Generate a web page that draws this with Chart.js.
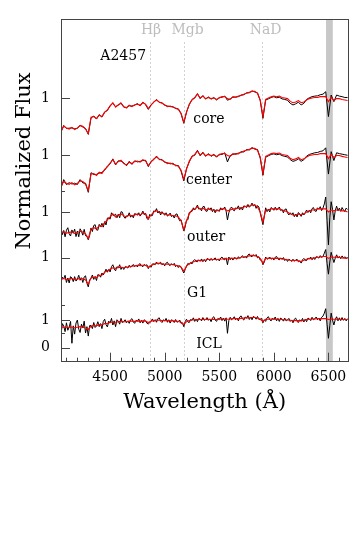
<!DOCTYPE html>
<html>
<head>
<meta charset="utf-8">
<script src="https://cdn.jsdelivr.net/npm/chart.js@4.4.0/dist/chart.umd.min.js"></script>
<style>
  html, body { margin: 0; padding: 0; background: #fff; }
  #spec { display: block; }
</style>
</head>
<body>
<canvas id="spec" width="360" height="540"></canvas>
<script>
// wavelength grid (Angstrom) for models and bright spectra
const wave = [4050,4075,4100,4125,4150,4175,4200,4225,4250,4275,
  4300,4325,4350,4375,4400,4425,4450,4475,4500,4525,
  4550,4575,4600,4625,4650,4675,4700,4725,4750,4775,
  4800,4825,4850,4875,4900,4925,4950,4975,5000,5025,
  5050,5075,5100,5125,5150,5175,5200,5225,5250,5275,
  5300,5325,5350,5375,5400,5425,5450,5475,5500,5525,
  5550,5575,5600,5625,5650,5675,5700,5725,5750,5775,
  5800,5825,5850,5875,5900,5925,5950,5975,6000,6025,
  6050,6075,6100,6125,6150,6175,6200,6225,6250,6275,
  6300,6325,6350,6375,6400,6425,6450,6475,6500,6525,
  6550,6575,6600,6625,6650,6675];

// finer grid for the noisy, faint spectra
const waveFine = [4050,4062.5,4075,4087.5,4100,4112.5,4125,4137.5,4150,4162.5,
  4175,4187.5,4200,4212.5,4225,4237.5,4250,4262.5,4275,4287.5,
  4300,4312.5,4325,4337.5,4350,4362.5,4375,4387.5,4400,4412.5,
  4425,4437.5,4450,4462.5,4475,4487.5,4500,4512.5,4525,4537.5,
  4550,4562.5,4575,4587.5,4600,4612.5,4625,4637.5,4650,4662.5,
  4675,4687.5,4700,4712.5,4725,4737.5,4750,4762.5,4775,4787.5,
  4800,4812.5,4825,4837.5,4850,4862.5,4875,4887.5,4900,4912.5,
  4925,4937.5,4950,4962.5,4975,4987.5,5000,5012.5,5025,5037.5,
  5050,5062.5,5075,5087.5,5100,5112.5,5125,5137.5,5150,5162.5,
  5175,5187.5,5200,5212.5,5225,5237.5,5250,5262.5,5275,5287.5,
  5300,5312.5,5325,5337.5,5350,5362.5,5375,5387.5,5400,5412.5,
  5425,5437.5,5450,5462.5,5475,5487.5,5500,5512.5,5525,5537.5,
  5550,5562.5,5575,5587.5,5600,5612.5,5625,5637.5,5650,5662.5,
  5675,5687.5,5700,5712.5,5725,5737.5,5750,5762.5,5775,5787.5,
  5800,5812.5,5825,5837.5,5850,5862.5,5875,5887.5,5900,5912.5,
  5925,5937.5,5950,5962.5,5975,5987.5,6000,6012.5,6025,6037.5,
  6050,6062.5,6075,6087.5,6100,6112.5,6125,6137.5,6150,6162.5,
  6175,6187.5,6200,6212.5,6225,6237.5,6250,6262.5,6275,6287.5,
  6300,6312.5,6325,6337.5,6350,6362.5,6375,6387.5,6400,6412.5,
  6425,6437.5,6450,6462.5,6475,6487.5,6500,6512.5,6525,6537.5,
  6550,6562.5,6575,6587.5,6600,6612.5,6625,6637.5,6650,6662.5,
  6675];

// observed (black) and model (red) spectra, already offset
const coreObs = [7.80,8.04,7.93,7.94,7.95,7.92,7.93,8.05,7.98,7.93,
  7.72,8.31,8.38,8.27,8.43,8.34,8.53,8.58,8.76,8.84,
  8.72,8.77,8.86,8.70,8.69,8.75,8.74,8.77,8.83,8.75,
  8.88,8.79,8.62,8.79,8.87,8.98,8.87,8.86,8.77,8.74,
  8.72,8.72,8.65,8.64,8.46,8.12,8.53,8.79,8.98,9.03,
  9.19,9.01,9.12,8.99,9.07,8.99,9.05,8.96,9.05,9.06,
  9.10,8.95,9.00,9.06,9.07,9.08,9.14,9.15,9.22,9.22,
  9.29,9.25,9.22,8.94,8.30,8.96,9.00,9.05,9.08,9.04,
  9.06,9.00,8.98,8.95,8.84,8.78,8.82,8.88,8.78,8.84,
  8.98,9.04,9.08,9.10,9.11,9.15,9.17,9.26,8.36,9.14,
  8.90,9.14,9.10,9.08,9.05,9.05];
const coreFit = [7.83,8.01,7.95,7.91,7.97,7.89,7.95,8.03,8.01,7.91,
  7.74,8.34,8.36,8.29,8.41,8.36,8.51,8.60,8.74,8.86,
  8.70,8.79,8.84,8.72,8.67,8.77,8.72,8.79,8.81,8.77,
  8.86,8.81,8.65,8.77,8.89,8.96,8.89,8.84,8.79,8.72,
  8.74,8.70,8.67,8.62,8.48,8.15,8.51,8.81,8.96,9.05,
  9.17,9.03,9.10,9.01,9.05,9.01,9.03,8.98,9.03,9.08,
  9.08,9.01,8.98,9.08,9.05,9.10,9.12,9.17,9.20,9.24,
  9.27,9.27,9.20,8.96,8.36,8.98,9.03,9.08,9.10,9.08,
  9.10,9.05,9.03,9.01,8.91,8.86,8.89,8.94,8.86,8.89,
  8.96,9.01,9.03,9.05,9.05,9.08,9.08,9.08,8.90,9.05,
  8.94,9.01,9.01,8.98,8.96,8.94];

const centerObs = [5.78,6.08,5.90,5.97,5.92,5.95,5.90,6.08,5.96,5.95,
  5.62,6.33,6.26,6.27,6.31,6.34,6.42,6.57,6.65,6.83,
  6.61,6.76,6.75,6.69,6.58,6.74,6.63,6.76,6.72,6.74,
  6.77,6.78,6.55,6.74,6.80,6.93,6.80,6.81,6.70,6.69,
  6.65,6.67,6.58,6.59,6.39,6.03,6.48,6.72,6.93,6.96,
  7.14,6.94,7.07,6.92,7.02,6.92,7.00,6.89,7.00,6.99,
  7.05,6.72,6.95,6.99,7.02,7.01,7.09,7.08,7.17,7.15,
  7.24,7.18,7.17,6.86,6.24,6.89,6.94,6.99,7.01,6.98,
  7.00,6.95,6.92,6.90,6.80,6.74,6.77,6.83,6.74,6.80,
  6.93,6.99,7.02,7.05,7.06,7.10,7.12,7.23,6.28,7.09,
  6.77,7.05,7.02,7.00,6.98,6.96];
const centerFit = [5.83,6.01,5.95,5.91,5.97,5.89,5.95,6.03,6.01,5.91,
  5.68,6.28,6.30,6.23,6.35,6.30,6.45,6.54,6.68,6.80,
  6.64,6.73,6.78,6.66,6.61,6.71,6.66,6.73,6.75,6.71,
  6.80,6.75,6.59,6.71,6.83,6.90,6.83,6.78,6.73,6.66,
  6.68,6.64,6.61,6.56,6.42,6.09,6.45,6.75,6.90,6.99,
  7.11,6.97,7.04,6.95,6.99,6.95,6.97,6.92,6.97,7.02,
  7.02,6.95,6.92,7.02,6.99,7.04,7.06,7.11,7.14,7.18,
  7.21,7.21,7.14,6.90,6.30,6.92,6.97,7.02,7.04,7.02,
  7.04,6.99,6.97,6.95,6.85,6.80,6.83,6.88,6.80,6.83,
  6.90,6.95,6.97,6.99,6.99,7.02,7.02,7.02,6.84,6.99,
  6.88,6.95,6.95,6.92,6.90,6.88];

// outer, G1 and ICL observed spectra are on waveFine
const outerObs = [4.30,4.09,4.24,4.01,4.25,4.34,4.12,4.04,4.26,4.14,
  4.29,4.02,4.22,4.01,4.30,4.21,4.07,4.28,4.05,4.03,
  3.90,4.06,4.33,4.20,4.42,4.45,4.26,4.25,4.46,4.38,
  4.50,4.36,4.56,4.44,4.69,4.69,4.65,4.88,4.79,4.79,
  4.83,4.70,4.83,4.70,4.92,4.90,4.74,4.68,4.77,4.76,
  4.88,4.72,4.80,4.70,4.85,4.83,4.79,4.88,4.76,4.84,
  4.94,4.81,4.86,4.67,4.64,4.82,4.77,4.78,4.95,4.92,
  5.03,4.87,4.94,4.80,4.92,4.86,4.79,4.88,4.76,4.80,
  4.87,4.74,4.79,4.69,4.82,4.84,4.70,4.59,4.63,4.42,
  4.22,4.37,4.62,4.63,4.89,4.92,4.93,5.06,4.98,5.06,
  5.16,5.01,5.04,4.95,5.10,5.11,4.95,4.93,5.06,4.99,
  5.06,4.92,5.01,4.88,4.99,4.97,4.93,5.06,4.98,5.02,
  5.09,4.94,4.62,4.88,5.03,5.09,4.99,4.95,5.06,5.03,
  5.13,4.99,5.08,4.98,5.13,5.11,5.07,5.18,5.08,5.14,
  5.23,5.12,5.18,5.04,5.14,5.09,4.88,4.66,4.45,4.76,
  5.06,4.92,5.01,4.91,5.07,5.03,4.97,5.08,4.98,5.02,
  5.09,4.96,5.00,4.88,5.00,5.02,4.88,4.80,4.88,4.81,
  4.88,4.74,4.83,4.73,4.89,4.83,4.75,4.88,4.80,4.88,
  4.98,4.89,4.97,4.88,5.03,5.07,4.95,4.93,5.06,5.01,
  5.10,4.96,5.05,5.20,5.45,4.60,3.72,4.70,5.28,5.00,
  4.62,4.96,5.12,4.95,5.05,4.93,5.07,4.98,4.92,5.05,
  5.00];
const outerFit = [4.16,4.20,4.14,4.17,4.19,4.13,4.17,4.21,4.18,4.12,
  3.95,4.30,4.34,4.30,4.41,4.38,4.52,4.62,4.73,4.84,
  4.73,4.80,4.84,4.77,4.73,4.80,4.77,4.80,4.84,4.80,
  4.87,4.84,4.66,4.80,4.91,4.95,4.91,4.87,4.84,4.80,
  4.80,4.77,4.77,4.73,4.59,4.27,4.59,4.84,4.98,5.02,
  5.09,5.02,5.05,4.98,5.02,4.98,4.98,4.95,4.98,5.02,
  5.02,4.95,4.98,5.02,5.02,5.05,5.05,5.09,5.12,5.12,
  5.16,5.16,5.09,4.91,4.55,4.98,4.98,5.02,5.02,5.02,
  5.02,4.98,4.95,4.91,4.84,4.80,4.80,4.84,4.80,4.84,
  4.91,4.95,4.98,4.98,5.02,5.02,5.02,5.02,4.91,4.98,
  4.95,4.98,4.98,4.95,4.95,4.91];

const g1Obs = [2.36,2.55,2.49,2.62,2.36,2.52,2.34,2.57,2.52,2.39,
  2.57,2.41,2.48,2.62,2.44,2.53,2.36,2.56,2.60,2.33,
  2.20,2.45,2.51,2.63,2.47,2.58,2.43,2.64,2.63,2.55,
  2.70,2.63,2.73,2.84,2.73,2.83,2.74,2.93,3.00,2.85,
  2.78,2.93,2.89,3.00,2.83,2.92,2.83,2.93,2.92,2.88,
  2.98,2.91,2.95,3.01,2.93,2.98,2.92,3.01,3.04,2.96,
  2.93,3.01,2.97,3.00,2.86,2.96,2.91,3.03,3.03,3.00,
  3.10,3.02,3.05,3.09,3.00,3.04,2.96,3.06,3.09,3.00,
  2.97,3.04,2.99,3.05,2.93,2.99,2.90,2.97,2.92,2.80,
  2.70,2.83,2.95,3.05,3.01,3.08,3.03,3.14,3.19,3.12,
  3.11,3.18,3.13,3.21,3.11,3.19,3.11,3.22,3.21,3.15,
  3.23,3.16,3.20,3.25,3.16,3.21,3.14,3.24,3.28,3.20,
  3.18,3.25,3.00,3.28,3.18,3.25,3.17,3.26,3.24,3.20,
  3.29,3.23,3.27,3.33,3.25,3.30,3.24,3.35,3.39,3.31,
  3.29,3.36,3.32,3.37,3.25,3.29,3.17,3.17,3.00,3.10,
  3.28,3.20,3.23,3.28,3.20,3.24,3.17,3.27,3.30,3.21,
  3.18,3.25,3.20,3.26,3.15,3.21,3.12,3.20,3.17,3.12,
  3.20,3.13,3.16,3.20,3.11,3.14,3.06,3.18,3.23,3.16,
  3.15,3.24,3.21,3.28,3.18,3.26,3.19,3.29,3.28,3.24,
  3.33,3.26,3.30,3.42,3.55,3.05,2.66,3.10,3.45,3.26,
  3.08,3.24,3.36,3.24,3.30,3.22,3.32,3.24,3.29,3.22,
  3.28];
const g1Fit = [2.48,2.50,2.46,2.49,2.50,2.46,2.48,2.51,2.49,2.45,
  2.30,2.52,2.55,2.54,2.62,2.62,2.73,2.78,2.84,2.89,
  2.87,2.90,2.91,2.89,2.91,2.93,2.95,2.96,2.98,2.97,
  2.98,2.98,2.91,2.97,3.02,3.05,3.05,3.03,3.02,3.02,
  3.02,3.00,2.98,2.96,2.91,2.77,2.95,3.04,3.09,3.12,
  3.16,3.14,3.16,3.17,3.20,3.18,3.20,3.19,3.20,3.21,
  3.23,3.21,3.23,3.23,3.23,3.24,3.27,3.28,3.30,3.32,
  3.34,3.33,3.30,3.23,3.05,3.23,3.23,3.23,3.23,3.23,
  3.23,3.21,3.20,3.18,3.16,3.15,3.16,3.14,3.12,3.16,
  3.20,3.22,3.23,3.25,3.27,3.28,3.30,3.30,3.23,3.28,
  3.27,3.28,3.27,3.25,3.24,3.23];

const iclObs = [0.47,0.87,0.78,0.58,0.90,0.63,0.74,0.95,0.16,0.79,
  0.49,0.89,1.00,0.67,0.55,0.85,0.71,0.96,0.53,0.76,
  0.42,0.80,0.80,0.69,0.91,0.73,0.79,0.94,0.76,0.87,
  0.69,0.95,1.03,0.83,0.75,0.96,0.89,1.06,0.82,0.97,
  0.76,1.01,0.96,0.85,1.06,0.91,0.94,1.01,0.90,0.97,
  0.88,1.01,1.05,0.93,0.88,0.99,0.96,1.04,0.90,0.99,
  0.89,1.01,0.97,0.88,0.86,0.90,0.96,1.04,0.94,1.01,
  0.92,1.05,1.08,0.96,0.91,1.01,0.97,1.06,0.92,1.01,
  0.89,1.01,0.98,0.91,1.02,0.92,0.95,1.00,0.88,0.90,
  0.76,0.94,1.03,0.93,0.91,1.02,0.99,1.08,0.95,1.04,
  0.94,1.06,1.03,0.97,1.09,0.99,1.02,1.09,0.99,1.04,
  0.94,1.08,1.12,1.00,0.95,1.06,1.02,1.11,0.98,1.07,
  0.96,1.08,0.52,0.98,1.10,1.01,1.05,1.12,1.01,1.07,
  0.97,1.11,1.15,1.04,1.00,1.11,1.07,1.16,1.02,1.11,
  1.01,1.13,1.10,1.03,1.13,1.02,1.03,1.06,0.90,1.01,
  0.95,1.08,1.12,1.01,0.97,1.07,1.02,1.11,0.97,1.06,
  0.95,1.07,1.03,0.96,1.07,0.97,1.00,1.06,0.95,1.00,
  0.90,1.03,1.07,0.95,0.91,1.01,0.96,1.06,0.93,1.03,
  0.94,1.07,1.04,0.98,1.10,1.01,1.04,1.11,1.01,1.07,
  0.97,1.10,1.14,1.25,1.41,0.85,0.34,0.80,1.25,1.00,
  0.82,1.02,1.12,0.97,1.08,0.98,1.09,0.99,1.06,0.97,
  1.05];
const iclFit = [0.73,0.75,0.72,0.74,0.75,0.72,0.74,0.76,0.74,0.71,
  0.66,0.78,0.80,0.79,0.84,0.83,0.87,0.88,0.91,0.93,
  0.92,0.94,0.95,0.94,0.94,0.96,0.96,0.95,0.97,0.96,
  0.97,0.96,0.91,0.96,0.98,1.00,0.99,0.98,0.98,0.98,
  0.97,0.97,0.96,0.95,0.92,0.84,0.94,0.98,1.00,1.01,
  1.02,1.02,1.03,1.02,1.03,1.02,1.03,1.02,1.03,1.04,
  1.04,1.03,1.04,1.05,1.05,1.05,1.06,1.07,1.08,1.08,
  1.09,1.09,1.07,1.03,0.95,1.03,1.03,1.04,1.03,1.03,
  1.03,1.02,1.01,1.00,0.99,0.98,0.98,0.98,0.97,0.99,
  1.02,1.03,1.04,1.04,1.05,1.05,1.05,1.05,1.02,1.04,
  1.03,1.03,1.03,1.02,1.02,1.02];

// region names and where their labels sit
const specNames = ['core', 'center', 'outer', 'G1', 'ICL'];
const specLabelWave = [5262, 5196, 5205, 5205, 5288];
const specLabelFlux = [8.27, 6.05, 3.98, 1.98, 0.125];

// absorption features marked with dotted lines
const lineNames = ['Hβ', 'Mgb', 'NaD'];
const lineWaves = [4861, 5175, 5893];
const lineLabelWave = [4875, 5210, 5924];

const maskBand = [6478, 6540];

// axis ticks
const xTicks = [4100,4200,4300,4400,4500,4600,4700,4800,4900,5000,5100,5200,5300,5400,
  5500,5600,5700,5800,5900,6000,6100,6200,6300,6400,6500,6600];
const xMajor = [4500, 5000, 5500, 6000, 6500];
const yTicks = [0, 0.518, 1, 1.554, 3.25, 4.911, 5.66, 6.957, 9.018];
const yTickLabels = ['0', '', '1', '', '1', '1', '', '1', '1'];

const serif = "'DejaVu Serif', serif";

function pts(grid, arr) {
  return arr.map((v, i) => ({ x: grid[i], y: v }));
}

const observed = [pts(wave, coreObs), pts(wave, centerObs), pts(waveFine, outerObs),
  pts(waveFine, g1Obs), pts(waveFine, iclObs)];
const fitted = [coreFit, centerFit, outerFit, g1Fit, iclFit];

const datasets = [];
fitted.forEach((arr, i) => {
  datasets.push({ label: specNames[i] + ' model', data: pts(wave, arr), borderColor: '#ff0000', borderWidth: 1.1, order: 0 });
});
observed.forEach((d, i) => {
  datasets.push({ label: specNames[i], data: d, borderColor: '#000000', borderWidth: 1, order: 1 });
});

// band, marker lines, frame, inward ticks and text
const decor = {
  id: 'decor',
  beforeDatasetsDraw(chart) {
    const { ctx, chartArea: a, scales: { x, y } } = chart;
    ctx.save();
    const b0 = x.getPixelForValue(maskBand[0]);
    const b1 = x.getPixelForValue(maskBand[1]);
    ctx.fillStyle = '#c8c8c8';
    ctx.fillRect(b0, a.top, b1 - b0, a.bottom - a.top);

    ctx.strokeStyle = '#c4c4c4';
    ctx.lineWidth = 1;
    ctx.setLineDash([1.5, 2.5]);
    lineWaves.forEach(w => {
      const px = Math.round(x.getPixelForValue(w)) + 0.5;
      ctx.beginPath();
      ctx.moveTo(px, y.getPixelForValue(11.05));
      ctx.lineTo(px, a.bottom);
      ctx.stroke();
    });
    ctx.restore();
  },
  afterDatasetsDraw(chart) {
    const { ctx, chartArea: a, scales: { x, y } } = chart;
    ctx.save();
    ctx.strokeStyle = '#444';
    ctx.lineWidth = 1;
    ctx.strokeRect(Math.round(a.left) + 0.5, Math.round(a.top) + 0.5,
      Math.round(a.right - a.left), Math.round(a.bottom - a.top));

    // x ticks point up into the plot
    xTicks.forEach(t => {
      const px = Math.round(x.getPixelForValue(t)) + 0.5;
      const len = xMajor.includes(t) ? 9 : 4;
      ctx.beginPath();
      ctx.moveTo(px, a.bottom);
      ctx.lineTo(px, a.bottom - len);
      ctx.stroke();
    });
    // y ticks point right into the plot
    yTicks.forEach((t, i) => {
      const py = Math.round(y.getPixelForValue(t)) + 0.5;
      const len = yTickLabels[i] ? 9 : 4;
      ctx.beginPath();
      ctx.moveTo(a.left, py);
      ctx.lineTo(a.left + len, py);
      ctx.stroke();
    });

    // feature names
    ctx.fillStyle = '#bdbdbd';
    ctx.font = '14px ' + serif;
    ctx.textAlign = 'center';
    ctx.textBaseline = 'middle';
    lineNames.forEach((n, i) => {
      ctx.fillText(n, x.getPixelForValue(lineLabelWave[i]), 30);
    });

    // cluster name and spectrum names
    ctx.fillStyle = '#000';
    ctx.fillText('A2457', x.getPixelForValue(4620), y.getPixelForValue(10.55));
    ctx.textAlign = 'left';
    specNames.forEach((n, i) => {
      ctx.fillText(n, x.getPixelForValue(specLabelWave[i]), y.getPixelForValue(specLabelFlux[i]));
    });

    // axis titles
    ctx.font = '21px ' + serif;
    ctx.textAlign = 'center';
    ctx.fillText('Wavelength (Å)', (a.left + a.right) / 2, 403);
    ctx.translate(25, 161);
    ctx.rotate(-Math.PI / 2);
    ctx.fillText('Normalized Flux', 0, 0);
    ctx.restore();
  }
};

new Chart(document.getElementById('spec'), {
  type: 'line',
  data: { datasets: datasets },
  options: {
    responsive: false,
    animation: false,
    layout: { padding: { top: 15, right: 11.7, left: 0, bottom: 0 } },
    elements: { point: { radius: 0 }, line: { tension: 0 } },
    plugins: { legend: { display: false }, tooltip: { enabled: false } },
    scales: {
      x: {
        type: 'linear',
        min: 4050,
        max: 6682,
        grid: { display: false, drawTicks: false },
        border: { display: false },
        afterFit: s => { s.height = 178.3; },
        afterBuildTicks: s => { s.ticks = xTicks.map(v => ({ value: v })); },
        ticks: {
          autoSkip: false,
          maxRotation: 0,
          padding: 7,
          color: '#000',
          font: { family: serif, size: 14 },
          callback: v => xMajor.includes(v) ? String(v) : ''
        }
      },
      y: {
        type: 'linear',
        min: -0.507,
        max: 11.875,
        grid: { display: false, drawTicks: false },
        border: { display: false },
        afterFit: s => { s.width = 61; },
        afterBuildTicks: s => { s.ticks = yTicks.map(v => ({ value: v })); },
        ticks: {
          autoSkip: false,
          padding: 11,
          color: '#000',
          font: { family: serif, size: 14 },
          callback: (v, i) => yTickLabels[i]
        }
      }
    }
  },
  plugins: [decor]
});
</script>
</body>
</html>
